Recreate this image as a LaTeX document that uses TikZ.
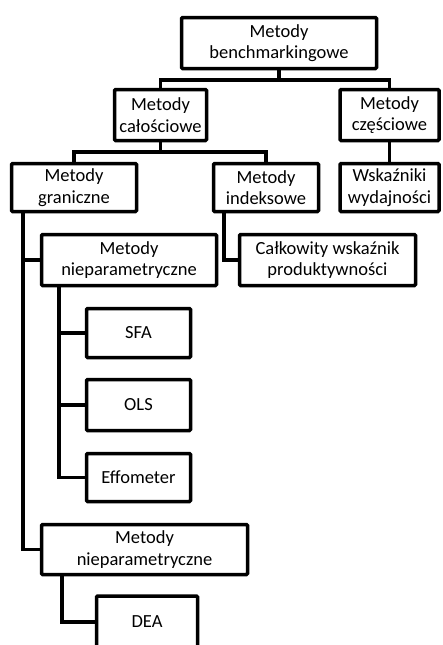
\documentclass[tikz,border=0pt]{standalone}
\usepackage{fontspec}
\setmainfont{Carlito}
\begin{document}
\begin{tikzpicture}[x=1pt,y=-1pt,
  box/.style={draw=black, line width=3.5pt, rounded corners=1.2pt, align=center,
    font=\fontsize{18.5}{21.5}\selectfont, inner sep=0pt, text=black},
  conn/.style={line width=3.5pt}]
\useasboundingbox (0,0) rectangle (442,645);
\clip (0,0) rectangle (442,645);
% boxes
\node[box, minimum width=195pt, minimum height=51pt] (top) at (279,43) {Metody\\benchmarkingowe};
\node[box, minimum width=92pt, minimum height=51pt] (cal) at (160.5,115) {Metody\\całościowe};
\node[box, minimum width=99pt, minimum height=51pt] (cze) at (389.5,115) {Metody\\częściowe};
\node[box, minimum width=125pt, minimum height=48pt] (gran) at (74,187.5) {Metody\\graniczne};
\node[box, minimum width=105pt, minimum height=48pt] (ind) at (266,187.5) {Metody\\indeksowe};
\node[box, minimum width=99pt, minimum height=48pt] (wsk) at (389.5,187.5) {Wskaźniki\\wydajności};
\node[box, minimum width=175pt, minimum height=51pt] (nie1) at (129,260) {Metody\\nieparametryczne};
\node[box, minimum width=176pt, minimum height=51pt] (calk) at (327.5,260) {Całkowity wskaźnik\\produktywności};
\node[box, minimum width=104pt, minimum height=49pt] (sfa) at (138.5,333) {SFA};
\node[box, minimum width=104pt, minimum height=51pt] (ols) at (138.5,405) {OLS};
\node[box, minimum width=104pt, minimum height=48pt] (eff) at (138.5,477.5) {Effometer};
\node[box, minimum width=206pt, minimum height=50pt] (nie2) at (144.5,549.5) {Metody\\nieparametryczne};
\node[box, minimum width=101pt, minimum height=52pt] (dea) at (147,622) {DEA};
% junction points
\coordinate (b1) at (279,80);
\coordinate (b2) at (160.5,152);
\coordinate (g0) at (23,212);
\coordinate (i0) at (224,212);
\coordinate (n1) at (59,286);
\coordinate (n2) at (62,575);
% connectors
\draw[conn] (top.south) -- (b1) -| (cal.north);
\draw[conn] (b1) -| (cze.north);
\draw[conn] (cal.south) -- (b2) -| (gran.north);
\draw[conn] (b2) -| (ind.north);
\draw[conn] (cze.south) -- (wsk.north);
\draw[conn] (g0) |- (nie1.west);
\draw[conn] (g0) |- (nie2.west);
\draw[conn] (i0) |- (calk.west);
\draw[conn] (n1) |- (sfa.west);
\draw[conn] (n1) |- (ols.west);
\draw[conn] (n1) |- (eff.west);
\draw[conn] (n2) |- (dea.west);
\end{tikzpicture}
\end{document}
